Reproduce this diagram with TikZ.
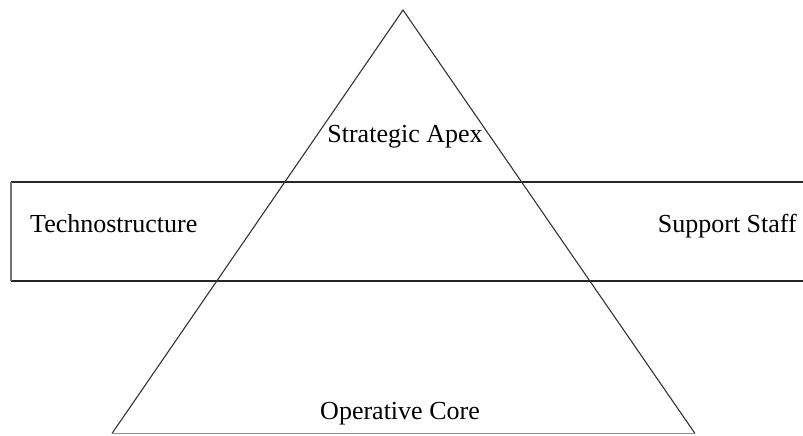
\documentclass[tikz,border=0pt]{standalone}
\usepackage{fontspec}
\setmainfont{Liberation Serif}
\begin{document}
\begin{tikzpicture}[x=1pt,y=-1pt,
  label text/.style={font=\fontsize{26}{30}\selectfont, inner sep=0pt, anchor=base},
  band line/.style={draw=black!85, line width=1.5pt},
  edge line/.style={draw=black!80, line width=1.1pt}]
  \useasboundingbox (0,0) rectangle (803,436);
  % band of the middle line (open on the right)
  \coordinate (bandTR) at (806,182);
  \coordinate (bandTL) at (11,182);
  \coordinate (bandBL) at (11,281);
  \coordinate (bandBR) at (806,281);
  \draw[band line] (bandTR) -- (bandTL);
  \draw[band line] (bandBL) -- (bandBR);
  \draw[draw=black!55, line width=1.2pt] (bandTL) -- (bandBL);
  % pyramid
  \coordinate (apex) at (403,10);
  \coordinate (baseL) at (112,433.5);
  \coordinate (baseR) at (695,433.5);
  \draw[edge line] (baseL) -- (apex) -- (baseR);
  \draw[draw=black!45, line width=1pt] (baseL) -- (baseR);
  % labels
  \node[label text] (apexlbl) at (405,142) {Strategic Apex};
  \node[label text, anchor=base west] (techlbl) at (30,232) {Technostructure};
  \node[label text, anchor=base east] (supplbl) at (797,232) {Support Staff};
  \node[label text] (corelbl) at (400,419) {Operative Core};
\end{tikzpicture}
\end{document}
